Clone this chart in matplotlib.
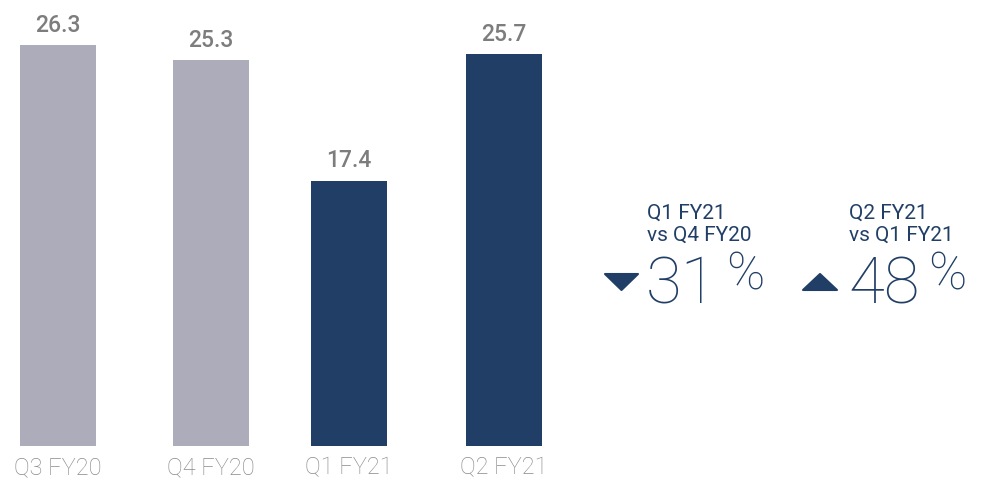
import numpy as np
import matplotlib
matplotlib.use("Agg")
import matplotlib.pyplot as plt
from matplotlib.patches import Polygon

# quarterly values
quarters = ['Q3 FY20', 'Q4 FY20', 'Q1 FY21', 'Q2 FY21']
values = [26.3, 25.3, 17.4, 25.7]
bar_colors = ['#adacbb', '#adacbb', '#213f66', '#213f66']

# change callouts
chg_titles = [['Q1 FY21', 'vs Q4 FY20'], ['Q2 FY21', 'vs Q1 FY21']]
chg_pct = ['31', '48']
chg_dir = ['down', 'up']

W, H = 982, 480
navy = '#213f66'
fam = ['Roboto', 'DejaVu Sans']

fig = plt.figure(figsize=(W / 100, H / 100), dpi=100)

def fx(x):
    return x / W

def fy(y):
    return 1 - y / H

# bar area (slot spacing follows the reference slide, which is slightly uneven)
ax = fig.add_axes([0, 34 / H, 560 / W, 446 / H])
step = 153.0
slots = np.array([0, 1, 1.902, 2.915])
ax.bar(slots, values, width=76 / step, color=bar_colors)
ax.set_xlim(-58 / step, (560 - 58) / step)
ax.set_ylim(0, 446 / 15.25)

for xi, v in zip(slots, values):
    ax.annotate(f'{v:.1f}', (xi, v), xytext=(0, 9.5), textcoords='offset points',
                ha='center', va='baseline', fontsize=16.5, color='#7d7d7d',
                family=fam, weight='medium', annotation_clip=False)

ax.set_xticks(slots)
ax.set_xticklabels(quarters, family=fam, weight='light', fontsize=17, color='#8a8a8a')
ax.tick_params(axis='x', length=0, pad=7)
ax.set_yticks([])
for s in ax.spines.values():
    s.set_visible(False)

# right side callouts
lefts = [647, 849]
tri_x = [605, 803]
nums = []
for i in range(2):
    l = lefts[i]
    fig.text(fx(l), fy(219), chg_titles[i][0], fontsize=15, color=navy, family=fam,
             va='baseline', ha='left')
    fig.text(fx(l), fy(241), chg_titles[i][1], fontsize=15, color=navy, family=fam,
             va='baseline', ha='left')
    nums.append(fig.text(fx(l - 1), fy(303), chg_pct[i], fontsize=47, color=navy,
                         family=fam, weight='light', va='baseline', ha='left'))
    t0 = tri_x[i]
    if chg_dir[i] == 'down':
        pts = [(t0, 274), (t0 + 33, 274), (t0 + 16.5, 290)]
    else:
        pts = [(t0, 290), (t0 + 34, 290), (t0 + 17, 274)]
    fig.add_artist(Polygon([(fx(a), fy(b)) for a, b in pts], closed=True,
                           transform=fig.transFigure, facecolor=navy,
                           edgecolor=navy, lw=1.5, joinstyle='round'))

# percent sign right after each number
fig.canvas.draw()
r = fig.canvas.get_renderer()
for t in nums:
    bb = t.get_window_extent(r)
    fig.text((bb.x1 + 9) / W, fy(290), '%', fontsize=37, color=navy, family=fam,
             weight='light', va='baseline', ha='left')

plt.savefig('out.png', dpi=100)
